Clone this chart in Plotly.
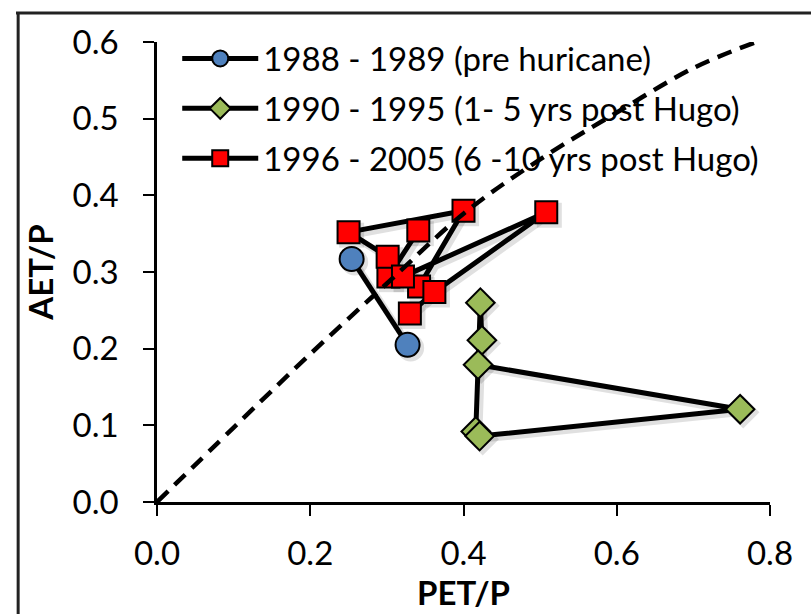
import plotly.graph_objects as go

# PET/P (x) and AET/P (y) by period
pre_x = [0.254, 0.327]
pre_y = [0.317, 0.205]

early_x = [0.416, 0.422, 0.424, 0.419, 0.761, 0.421]
early_y = [0.092, 0.260, 0.211, 0.179, 0.121, 0.086]

late_x = [0.341, 0.302, 0.301, 0.250, 0.400, 0.342, 0.321, 0.508, 0.362, 0.330]
late_y = [0.354, 0.294, 0.320, 0.352, 0.380, 0.281, 0.294, 0.378, 0.274, 0.246]

# reference curve
curve_x = [0.0, 0.1, 0.2, 0.3, 0.4, 0.5, 0.6, 0.7, 0.782]
curve_y = [0.0, 0.097, 0.193, 0.285, 0.376, 0.447, 0.508, 0.566, 0.6]

names = [
    "1988 - 1989 (pre huricane)",
    "1990 - 1995 (1- 5 yrs post Hugo)",
    "1996 - 2005 (6 -10 yrs post Hugo)",
]

FONT = "Lato"
FS = 33
fig = go.Figure()

series = [
    (pre_x, pre_y, "circle", "#4F81BD", 24),
    (early_x, early_y, "diamond", "#9BBB59", 22),
    (late_x, late_y, "square", "#FF0000", 22),
]

# soft drop shadow under each series (about 3 px down-right)
dx, dy = 0.004, -0.004
for xs, ys, sym, col, size in series:
    fig.add_trace(go.Scatter(
        x=[v + dx for v in xs], y=[v + dy for v in ys],
        mode="lines+markers", showlegend=False, hoverinfo="skip",
        line=dict(color="rgba(0,0,0,0.12)", width=7),
        marker=dict(symbol=sym, color="rgba(0,0,0,0.12)", size=size + 3,
                    line=dict(width=0)),
        cliponaxis=False,
    ))

for i, ((xs, ys, sym, col, size), name) in enumerate(zip(series, names)):
    fig.add_trace(go.Scatter(
        x=xs, y=ys, name=name, mode="lines+markers", legendgroup=f"g{i}",
        line=dict(color="black", width=5),
        marker=dict(symbol=sym, color=col, size=size,
                    line=dict(color="black", width=2)),
        cliponaxis=False,
    ))

fig.add_trace(go.Scatter(
    x=curve_x, y=curve_y, mode="lines", showlegend=False,
    line=dict(color="black", width=4.5, dash="15px,9px", shape="spline"),
    hoverinfo="skip",
))

# outer frame of the chart area
fig.add_shape(type="line", xref="paper", yref="paper",
              x0=-0.23, x1=1.2, y0=1.063, y1=1.063,
              line=dict(color="#222222", width=3))
fig.add_shape(type="line", xref="paper", yref="paper",
              x0=-0.2265, x1=-0.2265, y0=-0.3, y1=1.065,
              line=dict(color="#222222", width=3))

fig.update_layout(
    width=811, height=614,
    margin=dict(l=157, r=41, t=42, b=112),
    paper_bgcolor="white", plot_bgcolor="white",
    font=dict(family=FONT, size=FS, color="black"),
    showlegend=True,
    legend=dict(x=0.033, y=1.025, xanchor="left", yanchor="top",
                bgcolor="rgba(0,0,0,0)", itemwidth=76,
                traceorder="grouped", tracegroupgap=4,
                font=dict(family=FONT, size=FS)),
    xaxis=dict(range=[0, 0.8], tickvals=[0, 0.2, 0.4, 0.6, 0.8],
               tickformat=".1f", showgrid=False, zeroline=False,
               showline=True, linecolor="black", linewidth=2.5,
               ticks="outside", ticklen=11, tickwidth=2, tickcolor="black",
               ticklabelstandoff=10,
               title=dict(text="<b>PET/P</b>", font=dict(family=FONT, size=FS),
                          standoff=0)),
    yaxis=dict(range=[0, 0.6], tickvals=[0, 0.1, 0.2, 0.3, 0.4, 0.5, 0.6],
               tickformat=".1f", showgrid=False, zeroline=False,
               showline=True, linecolor="black", linewidth=2.5,
               ticks="outside", ticklen=11, tickwidth=2, tickcolor="black",
               ticklabelstandoff=18,
               title=dict(text="<b>AET/P</b>", font=dict(family=FONT, size=FS),
                          standoff=10)),
)

fig.write_html("out.html")
